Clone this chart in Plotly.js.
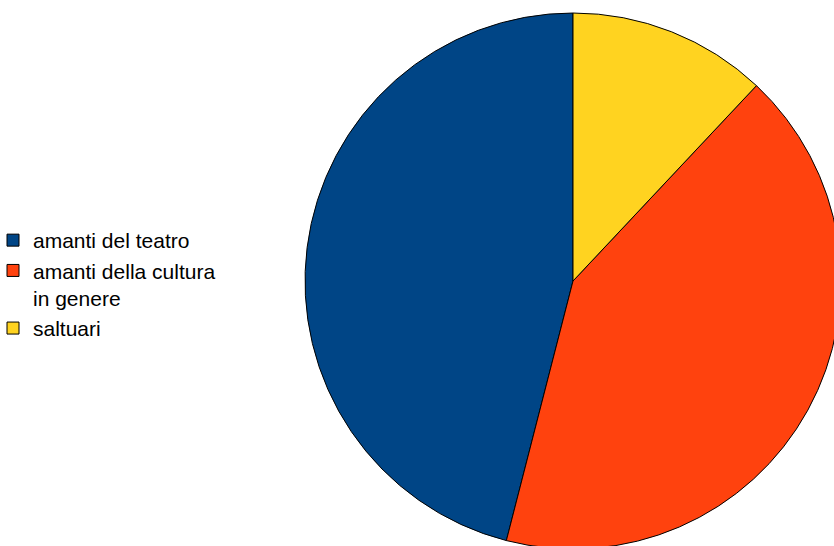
<!DOCTYPE html>
<html>
<head>
<meta charset="utf-8">
<script src="https://cdn.plot.ly/plotly-3.0.1.min.js"></script>
<style>
html, body { margin: 0; padding: 0; overflow: hidden; background: #ffffff; }
#chart { width: 860px; height: 560px; margin-left: -11px; }
</style>
</head>
<body>
<div id="chart"></div>
<script>
var categories = ["amanti del teatro", "amanti della cultura<br>in genere", "saltuari"];
var values = [46, 42, 12];
var colors = ["#004586", "#ff420e", "#ffd320"];

var shiftX = 11;
var W = 860, H = 560;
var cx = 573 + shiftX, cy = 281, r = 268;

var total = values.reduce(function (a, b) { return a + b; }, 0);
// first slice ends at 12 o'clock going counterclockwise
var rot = 360 - 360 * values[0] / total;

var trace = {
  type: "pie",
  labels: categories,
  values: values,
  sort: false,
  direction: "counterclockwise",
  rotation: rot,
  textinfo: "none",
  hoverinfo: "label+percent",
  marker: { colors: colors, line: { color: "#000000", width: 1 } },
  domain: { x: [(cx - r) / W, (cx + r) / W], y: [1 - (cy + r) / H, 1 - (cy - r) / H] }
};

var layout = {
  width: W,
  height: H,
  margin: { l: 0, r: 0, t: 0, b: 0, pad: 0 },
  paper_bgcolor: "#ffffff",
  showlegend: true,
  font: { family: "Liberation Sans, Arial, sans-serif", size: 21, color: "#000000" },
  legend: {
    x: 4 / W,
    xanchor: "left",
    y: 1 - 220 / H,
    yanchor: "top",
    valign: "top",
    bgcolor: "rgba(0,0,0,0)",
    borderwidth: 0,
    traceorder: "normal",
    itemwidth: 30,
    font: { family: "Liberation Sans, Arial, sans-serif", size: 21, color: "#000000" }
  }
};

Plotly.newPlot("chart", [trace], layout, { displayModeBar: false, staticPlot: true });
</script>
</body>
</html>
